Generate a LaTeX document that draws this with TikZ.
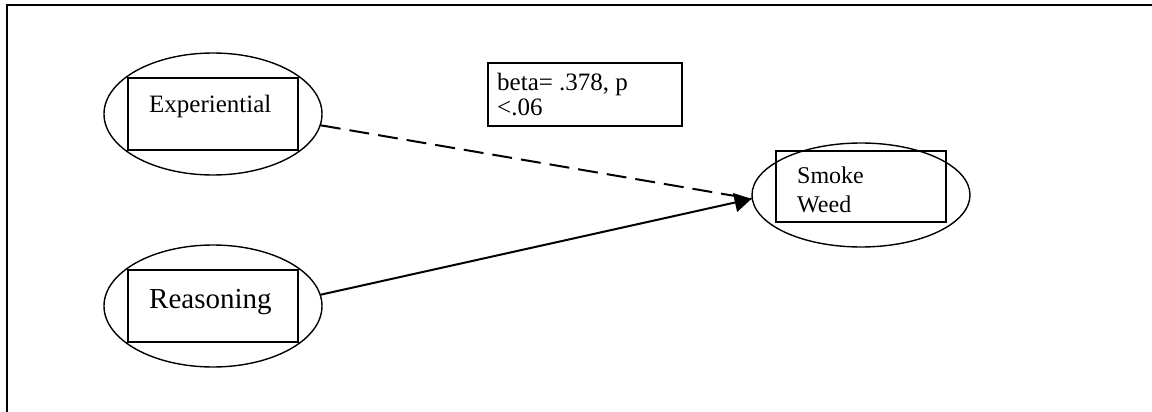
\documentclass[tikz,border=0pt]{standalone}
\usepackage{fontspec}
\setmainfont{Liberation Serif}
\usepackage{tikz}
\usetikzlibrary{arrows.meta,positioning,shapes.geometric}

\begin{document}
\begin{tikzpicture}[x=1pt, y=-1pt, every node/.style={inner sep=0pt}]
        \tikzset{
            latent/.style={draw, ellipse, line width=1.4pt, minimum width=218pt, minimum height=122pt},
            inbox/.style={draw, rectangle, line width=1.9pt, minimum width=170pt, minimum height=72pt},
            lbl/.style={anchor=base west, font=\fontsize{25}{27}\selectfont},
            note/.style={draw, rectangle, line width=1.9pt, minimum width=194pt, minimum height=63pt},
            effect/.style={line width=2pt, -{Triangle[length=17pt, width=19pt]}},
            weak/.style={line width=2pt, dash pattern=on 20pt off 9pt}
        }

        \useasboundingbox (0,0) rectangle (1152,412);
        % outer frame, runs off the right and bottom edges
        \draw[line width=2pt] (7,5) rectangle (1170,430);

        % predictors
        \node[latent] (exp-ell) at (213,114) {};
        \node[inbox] (exp-box) at (213,114) {};
        \node[lbl] (exp-txt) at (149,113) {Experiential};

        \node[latent] (reas-ell) at (213,306) {};
        \node[inbox] (reas-box) at (213,306) {};
        \node[lbl, font=\fontsize{29}{32}\selectfont] (reas-txt) at (149,308) {Reasoning};

        % outcome
        \node[latent, minimum height=104pt] (weed-ell) at (861,195) {};
        \node[inbox, minimum height=71pt] (weed-box) at (861,186.5) {};
        \node[lbl, anchor=north west, align=left, font=\fontsize{24}{29}\selectfont] (weed-txt) at (797,166.6) {Smoke\\Weed};

        % coefficient
        \node[note] (coef) at (585,94.5) {};
        \node[lbl, anchor=north west, align=left, font=\fontsize{25}{25}\selectfont] (coef-txt) at (497,73) {beta= .378, p\\<.06};

        \draw[weak] (exp-ell.-6) -- (weed-ell.182);
        \draw[effect] (reas-ell.6) -- (weed-ell.182);
\end{tikzpicture}
\end{document}
